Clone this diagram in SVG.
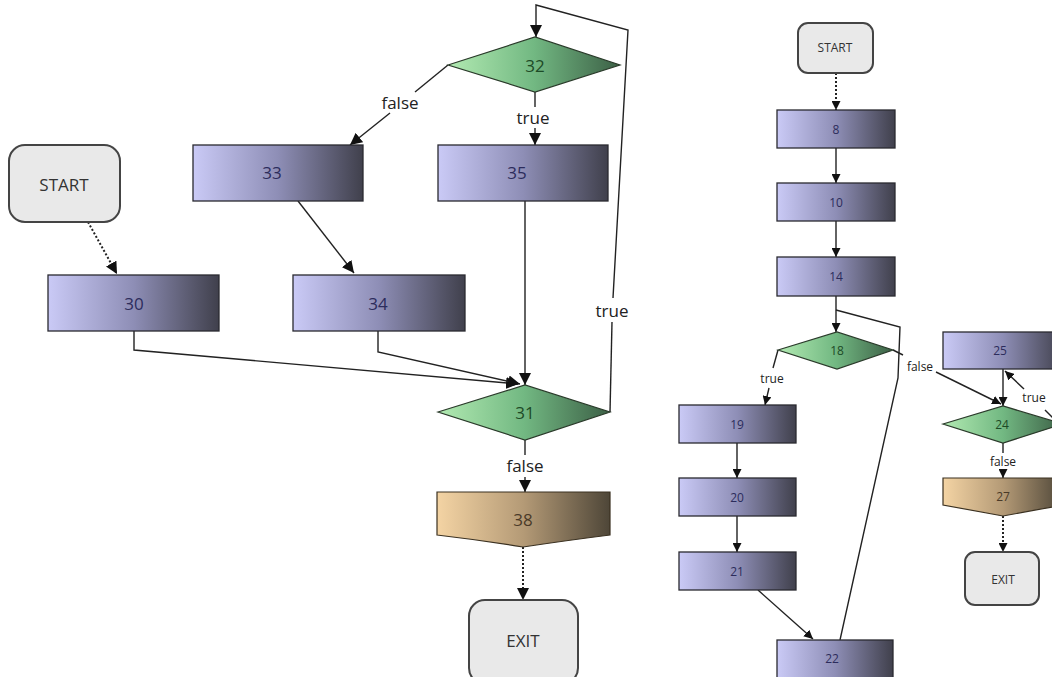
<svg xmlns="http://www.w3.org/2000/svg" width="1052" height="677" viewBox="0 0 1052 677">
<style>
.box{stroke:#2a2a30;stroke-width:1.3}
.dia{stroke:#2a3a2a;stroke-width:1.2}
.term{fill:#e9e9e9;stroke:#444;stroke-width:2}
.ex{stroke:#3a3020;stroke-width:1.2}
.t{font-family:"Open Sans","DejaVu Sans",sans-serif;text-anchor:middle;dominant-baseline:central}
.tb{fill:#2c2c5c}
.tg{fill:#1d4a26}
.tt{fill:#4a3a28}
.tk{fill:#333}
.L{font-size:17px}
.S{font-size:12px}
.lab{fill:#222}
.e{fill:none;stroke:#222;stroke-width:1.4}
.d{fill:none;stroke:#222;stroke-width:2;stroke-dasharray:2 2}
.ea{marker-end:url(#ah)}
.es{marker-end:url(#as)}
</style>
<defs>
<linearGradient id="gb"><stop offset="0" stop-color="#cacaf6"/><stop offset="0.5" stop-color="#8e8eb6"/><stop offset="1" stop-color="#40404c"/></linearGradient>
<linearGradient id="gg"><stop offset="0" stop-color="#b2eab2"/><stop offset="0.5" stop-color="#72b882"/><stop offset="1" stop-color="#3c6046"/></linearGradient>
<linearGradient id="gt"><stop offset="0" stop-color="#f4d4a4"/><stop offset="0.5" stop-color="#b49a76"/><stop offset="1" stop-color="#4e4638"/></linearGradient>
<marker id="ah" viewBox="0 0 10 10" refX="10" refY="5" markerWidth="12" markerHeight="12" orient="auto" markerUnits="userSpaceOnUse"><path d="M0,0 L10,5 L0,10 z" fill="#111"/></marker>
<marker id="as" viewBox="0 0 10 10" refX="10" refY="5" markerWidth="9" markerHeight="9" orient="auto" markerUnits="userSpaceOnUse"><path d="M0,0 L10,5 L0,10 z" fill="#111"/></marker>
</defs>

<g id="connectors">
<!-- left graph -->
<path class="d ea" d="M88,222 L117,274"/>
<path class="e" d="M448,65 L415,92"/>
<path class="e ea" d="M390,113 L350,145"/>
<path class="e" d="M535,92 L535,107"/>
<path class="e ea" d="M535,128 L535,145"/>
<path class="e ea" d="M298,201 L354,273"/>
<path class="e ea" d="M525,201 L525,385"/>
<path class="e ea" d="M134,331 L134,350 L518,384"/>
<path class="e ea" d="M378,331 L378,352 L520,384"/>
<path class="e" d="M610,412 L612,322"/>
<path class="e ea" d="M613,298 L628,30 L536,5 L536,37"/>
<path class="e" d="M525,440 L525,455"/>
<path class="e ea" d="M525,477 L525,492"/>
<path class="d ea" d="M523,547 L523,600"/>
<text class="t L lab" x="400" y="102">false</text>
<text class="t L lab" x="533" y="117">true</text>
<text class="t L lab" x="612" y="310">true</text>
<text class="t L lab" x="525" y="465">false</text>

<!-- right graph -->
<path class="d es" d="M836,73 L836,110"/>
<path class="e es" d="M836,148 L836,183"/>
<path class="e es" d="M836,221 L836,257"/>
<path class="e es" d="M836,296 L836,332"/>
<path class="e" d="M840,640 L898,378 L900,327 L836,310"/>
<path class="e" d="M778,350 L773,368"/>
<path class="e es" d="M769,388 L765,405"/>
<path class="e es" d="M737,443 L737,478"/>
<path class="e es" d="M737,516 L737,552"/>
<path class="e es" d="M758,590 L813,639"/>
<path class="e" d="M893,350 L903,355"/>
<path class="e es" d="M936,372 L1001,404"/>
<path class="e es" d="M1003,369 L1003,406"/>
<path class="e es" d="M1024,389 L1005,371"/>
<path class="e" d="M1045,410 L1060,425"/>
<path class="e" d="M1003,443 L1003,453"/>
<path class="e es" d="M1003,469 L1003,478"/>
<path class="d es" d="M1003,516 L1003,552"/>
<text class="t S lab" x="772" y="378">true</text>
<text class="t S lab" x="920" y="366">false</text>
<text class="t S lab" x="1034" y="397">true</text>
<text class="t S lab" x="1003" y="461">false</text>
</g>

<!-- left graph nodes -->
<g id="n-start-l"><rect class="term" x="9" y="145" width="111" height="77" rx="16"/><text class="t L tk" x="64" y="184">START</text></g>
<g id="n30"><rect class="box" x="48" y="275" width="171" height="56" fill="url(#gb)"/><text class="t L tb" x="134" y="303">30</text></g>
<g id="n32"><polygon class="dia" points="448,65 535,37 620,65 535,92" fill="url(#gg)"/><text class="t L tg" x="535" y="65">32</text></g>
<g id="n33"><rect class="box" x="193" y="145" width="170" height="56" fill="url(#gb)"/><text class="t L tb" x="272" y="172">33</text></g>
<g id="n35"><rect class="box" x="438" y="145" width="170" height="56" fill="url(#gb)"/><text class="t L tb" x="517" y="172">35</text></g>
<g id="n34"><rect class="box" x="293" y="275" width="172" height="56" fill="url(#gb)"/><text class="t L tb" x="378" y="303">34</text></g>
<g id="n31"><polygon class="dia" points="438,412 525,385 610,412 525,440" fill="url(#gg)"/><text class="t L tg" x="525" y="412">31</text></g>
<g id="n38"><path class="ex" d="M437,492 L610,492 L610,535 Q570,540 523,547 Q480,540 437,535 Z" fill="url(#gt)"/><text class="t L tt" x="523" y="519">38</text></g>
<g id="n-exit-l"><rect class="term" x="469" y="600" width="109" height="84" rx="16"/><text class="t L tk" x="523" y="640">EXIT</text></g>

<!-- right graph nodes -->
<g id="n-start-r"><rect class="term" x="798" y="23" width="75" height="50" rx="10"/><text class="t S tk" x="835" y="47">START</text></g>
<g id="n8"><rect class="box" x="777" y="110" width="118" height="38" fill="url(#gb)"/><text class="t S tb" x="836" y="129">8</text></g>
<g id="n10"><rect class="box" x="777" y="183" width="118" height="38" fill="url(#gb)"/><text class="t S tb" x="836" y="202">10</text></g>
<g id="n14"><rect class="box" x="777" y="257" width="118" height="39" fill="url(#gb)"/><text class="t S tb" x="836" y="276">14</text></g>
<g id="n18"><polygon class="dia" points="778,350 837,332 893,350 837,369" fill="url(#gg)"/><text class="t S tg" x="837" y="350">18</text></g>
<g id="n19"><rect class="box" x="679" y="405" width="117" height="38" fill="url(#gb)"/><text class="t S tb" x="737" y="424">19</text></g>
<g id="n20"><rect class="box" x="679" y="478" width="117" height="38" fill="url(#gb)"/><text class="t S tb" x="737" y="497">20</text></g>
<g id="n21"><rect class="box" x="679" y="552" width="117" height="38" fill="url(#gb)"/><text class="t S tb" x="737" y="571">21</text></g>
<g id="n22"><rect class="box" x="777" y="640" width="116" height="40" fill="url(#gb)"/><text class="t S tb" x="832" y="658">22</text></g>
<g id="n25"><rect class="box" x="943" y="332" width="120" height="37" fill="url(#gb)"/><text class="t S tb" x="1000" y="350">25</text></g>
<g id="n24"><polygon class="dia" points="943,424 1003,406 1063,424 1003,443" fill="url(#gg)"/><text class="t S tg" x="1002" y="424">24</text></g>
<g id="n27"><path class="ex" d="M943,478 L1063,478 L1063,505 L1003,516 L943,505 Z" fill="url(#gt)"/><text class="t S tt" x="1003" y="496">27</text></g>
<g id="n-exit-r"><rect class="term" x="965" y="552" width="74" height="53" rx="10"/><text class="t S tk" x="1003" y="579">EXIT</text></g>
</svg>
